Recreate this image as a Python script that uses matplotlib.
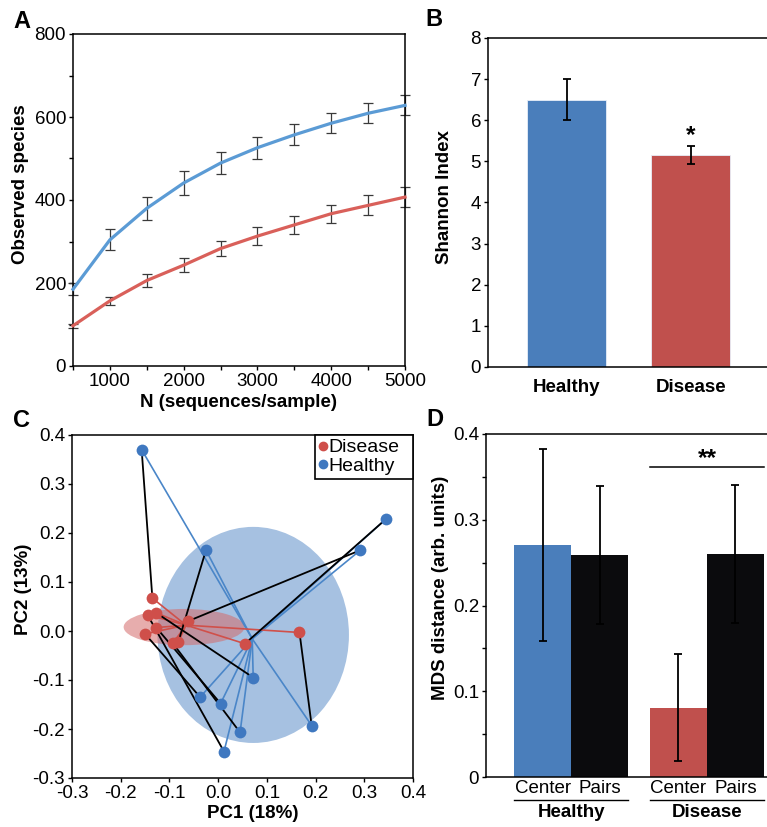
import matplotlib
matplotlib.use("Agg")
import matplotlib.pyplot as plt
import numpy as np
from matplotlib.patches import Ellipse
from matplotlib.lines import Line2D
from matplotlib.ticker import MultipleLocator, FixedLocator

plt.rcParams['font.family'] = ['Liberation Sans', 'DejaVu Sans']
plt.rcParams['axes.unicode_minus'] = False

# ---------------- data ----------------
# Panel A: rarefaction curves
seq_depth = [500, 1000, 1500, 2000, 2500, 3000, 3500, 4000, 4500, 5000]
healthy_obs = [185, 304, 380, 441, 489, 526, 557, 585, 609, 628]
healthy_obs_err = [15, 25, 27, 28, 27, 27, 25, 24, 24, 24]
disease_obs = [97, 157, 206, 243, 283, 313, 340, 367, 387, 407]
disease_obs_err = [5, 9, 15, 17, 19, 22, 22, 22, 24, 25]

# Panel B: Shannon index
shannon_groups = ['Healthy', 'Disease']
shannon_vals = [6.5, 5.15]
shannon_err = [0.5, 0.22]

# Panel C: PCoA
healthy_pc1 = [-0.157, -0.025, 0.344, 0.292, 0.072, -0.037, 0.005, 0.045, 0.012, 0.192]
healthy_pc2 = [0.370, 0.165, 0.228, 0.165, -0.095, -0.135, -0.148, -0.207, -0.246, -0.193]
disease_pc1 = [-0.135, -0.145, -0.127, -0.150, -0.127, -0.062, -0.093, -0.082, 0.055, 0.167]
disease_pc2 = [0.067, 0.033, 0.037, -0.006, 0.007, 0.020, -0.025, -0.023, -0.026, -0.003]
# pairing: disease sample i is paired with healthy sample pair_idx[i]
pair_idx = [0, 8, 4, 5, 6, 3, 7, 1, 2, 9]
healthy_center = (0.070, -0.016)
disease_center = (-0.066, 0.012)
healthy_ellipse = (0.072, -0.008, 0.393, 0.441)   # cx, cy, width, height
disease_ellipse = (-0.070, 0.008, 0.248, 0.074)

# Panel D: MDS distances
mds_groups = ['Healthy', 'Disease']
mds_sub = ['Center', 'Pairs']
mds_vals = [[0.271, 0.259], [0.081, 0.260]]
mds_err = [[0.112, 0.080], [0.062, 0.080]]

# ---------------- style ----------------
BLUE_LINE = '#5b9bd5'
RED_LINE = '#d9605a'
BAR_BLUE = '#4a7ebb'
BAR_RED = '#c0504d'
BAR_BLACK = '#0b0b0d'
PT_BLUE = '#3f78c0'
PT_RED = '#cf4f4a'
FS = 13.5

fig = plt.figure(figsize=(7.67, 8.27), dpi=100)
W, H = 767.0, 827.0

def add_ax(l, r, t, b):
    return fig.add_axes([l / W, 1 - b / H, (r - l) / W, (b - t) / H])

# ---------------- Panel A ----------------
axA = add_ax(73, 405, 34, 366)
axA.plot(seq_depth, healthy_obs, color=BLUE_LINE, lw=2.3, zorder=3, clip_on=False)
axA.plot(seq_depth, disease_obs, color=RED_LINE, lw=2.3, zorder=3, clip_on=False)
axA.errorbar(seq_depth, healthy_obs, yerr=healthy_obs_err, fmt='none', ecolor='#3a3a3a',
             elinewidth=0.9, capsize=3.5, capthick=0.9, zorder=2, clip_on=False)
axA.errorbar(seq_depth, disease_obs, yerr=disease_obs_err, fmt='none', ecolor='#3a3a3a',
             elinewidth=0.9, capsize=3.5, capthick=0.9, zorder=2, clip_on=False)
axA.set_xlim(500, 5000)
axA.set_ylim(0, 800)
axA.xaxis.set_major_locator(FixedLocator([1000, 2000, 3000, 4000, 5000]))
axA.xaxis.set_minor_locator(MultipleLocator(500))
axA.yaxis.set_major_locator(MultipleLocator(200))
axA.yaxis.set_minor_locator(MultipleLocator(100))
axA.tick_params(which='both', direction='out', length=3, width=1, labelsize=FS, pad=2)
axA.set_xlabel('N (sequences/sample)', fontsize=FS, fontweight='bold', labelpad=3)
axA.set_ylabel('Observed species', fontsize=FS, fontweight='bold')
axA.yaxis.set_label_coords(-0.134, 0.548)
for s in axA.spines.values():
    s.set_linewidth(1.1)

# ---------------- Panel B ----------------
axB = add_ax(488, 767, 38, 367)
xb = np.arange(len(shannon_groups))
axB.bar(xb, shannon_vals, width=0.637, color=[BAR_BLUE, BAR_RED], edgecolor='#e8eef8',
        linewidth=0.6, zorder=2)
axB.errorbar(xb, shannon_vals, yerr=shannon_err, fmt='none', ecolor='black',
             elinewidth=1.3, capsize=2.6, capthick=1.3, zorder=3)
axB.text(1, 5.62, '*', ha='center', va='center', fontsize=FS + 4, fontweight='bold')
axB.set_xlim(-0.637, 1.613)
axB.set_ylim(0, 8)
axB.yaxis.set_major_locator(MultipleLocator(1))
axB.set_xticks(xb)
axB.set_xticklabels(shannon_groups, fontsize=FS, fontweight='bold')
axB.tick_params(axis='x', length=0, pad=9)
axB.tick_params(axis='y', direction='out', length=3, width=1, labelsize=FS, pad=2)
axB.set_ylabel('Shannon Index', fontsize=FS, fontweight='bold')
axB.yaxis.set_label_coords(-0.125, 0.517)
axB.spines['right'].set_visible(False)
for s in axB.spines.values():
    s.set_linewidth(1.1)

# ---------------- Panel C ----------------
axC = add_ax(72, 413, 435, 778)
cx, cy, ew, eh = healthy_ellipse
axC.add_patch(Ellipse((cx, cy), ew, eh, facecolor='#a6c1e1', edgecolor='none', zorder=1))
cx, cy, ew, eh = disease_ellipse
axC.add_patch(Ellipse((cx, cy), ew, eh, facecolor='#d46a6a', alpha=0.55, edgecolor='none', zorder=1.5))
for x, y in zip(healthy_pc1, healthy_pc2):
    axC.plot([x, healthy_center[0]], [y, healthy_center[1]], color='#4a86c8', lw=1.2, zorder=2)
for x, y in zip(disease_pc1, disease_pc2):
    axC.plot([x, disease_center[0]], [y, disease_center[1]], color='#d0504a', lw=1.2, zorder=2)
for i, j in enumerate(pair_idx):
    axC.plot([disease_pc1[i], healthy_pc1[j]], [disease_pc2[i], healthy_pc2[j]],
             color='black', lw=1.3, zorder=2.5)
axC.scatter(healthy_pc1, healthy_pc2, s=72, color=PT_BLUE, zorder=4, linewidths=0)
axC.scatter(disease_pc1, disease_pc2, s=72, color=PT_RED, zorder=4, linewidths=0)
axC.set_xlim(-0.3, 0.4)
axC.set_ylim(-0.3, 0.4)
axC.xaxis.set_major_locator(MultipleLocator(0.1))
axC.yaxis.set_major_locator(MultipleLocator(0.1))
axC.xaxis.set_major_formatter(plt.FormatStrFormatter('%.1f'))
axC.yaxis.set_major_formatter(plt.FormatStrFormatter('%.1f'))
axC.tick_params(which='both', direction='out', length=3, width=1, labelsize=FS, pad=2)
axC.set_xlabel('PC1 (18%)', fontsize=FS, fontweight='bold')
axC.xaxis.set_label_coords(0.531, -0.08)
axC.set_ylabel('PC2 (13%)', fontsize=FS, fontweight='bold')
axC.yaxis.set_label_coords(-0.116, 0.551)
for s in axC.spines.values():
    s.set_linewidth(1.1)
handles = [Line2D([], [], marker='o', ls='', color=PT_RED, markersize=6, label='Disease'),
           Line2D([], [], marker='o', ls='', color=PT_BLUE, markersize=6, label='Healthy')]
leg = axC.legend(handles=handles, loc='upper left', bbox_to_anchor=(0.7126, 0.0, 0.2874, 1.0),
                 mode='expand', borderaxespad=0, fontsize=FS + 0.5,
                 frameon=True, fancybox=False, edgecolor='black', framealpha=1,
                 handlelength=0.4, handletextpad=0.1, borderpad=0.2, labelspacing=0.05)
leg.get_frame().set_linewidth(1.2)

# ---------------- Panel D ----------------
axD = add_ax(486, 767, 434, 777)
group_centers = [1.5, 3.877]
bar_cols = [[BAR_BLUE, BAR_BLACK], [BAR_RED, BAR_BLACK]]
tick_pos, tick_lab = [], []
for g, gc in enumerate(group_centers):
    for k, off in enumerate([-0.5, 0.5]):
        xpos = gc + off
        axD.bar(xpos, mds_vals[g][k], width=1.0, color=bar_cols[g][k], linewidth=0, zorder=2)
        axD.errorbar(xpos, mds_vals[g][k], yerr=mds_err[g][k], fmt='none', ecolor='black',
                     elinewidth=1.3, capsize=3, capthick=1.3, zorder=3)
        tick_pos.append(xpos)
        tick_lab.append(mds_sub[k])
axD.set_xlim(0, 4.93)
axD.set_ylim(0, 0.4)
axD.yaxis.set_major_locator(FixedLocator([0, 0.1, 0.2, 0.3, 0.4]))
axD.set_yticklabels(['0', '0.1', '0.2', '0.3', '0.4'])
axD.yaxis.set_minor_locator(MultipleLocator(0.05))
axD.set_xticks(tick_pos)
axD.set_xticklabels(tick_lab, fontsize=FS)
axD.tick_params(axis='x', length=0, pad=2)
axD.tick_params(axis='y', which='both', direction='out', length=3, width=1, labelsize=FS, pad=2)
axD.set_ylabel('MDS distance (arb. units)', fontsize=FS, fontweight='bold')
axD.yaxis.set_label_coords(-0.130, 0.551)
axD.spines['right'].set_visible(False)
for s in axD.spines.values():
    s.set_linewidth(1.1)
# significance bar over disease group
sig_y = 0.362
axD.plot([group_centers[1] - 1.0, group_centers[1] + 1.0], [sig_y, sig_y], color='black', lw=1.1)
axD.text(group_centers[1], 0.371, '**', ha='center', va='center', fontsize=FS + 4,
         fontweight='bold')
tr = axD.get_xaxis_transform()
for g, gc in enumerate(group_centers):
    axD.add_line(Line2D([gc - 1.0, gc + 1.0], [-0.067, -0.067], transform=tr, color='black',
                        lw=1.0, clip_on=False))
    axD.text(gc, -0.103, mds_groups[g], transform=tr, ha='center', va='center', fontsize=FS,
             fontweight='bold')

# ---------------- panel letters ----------------
for lab, (px, py) in {'A': (22, 21), 'B': (434, 19), 'C': (22, 421), 'D': (435, 419)}.items():
    fig.text(px / W, 1 - py / H, lab, fontsize=17, fontweight='bold', ha='center', va='center')

fig.savefig('out.png', dpi=100)
